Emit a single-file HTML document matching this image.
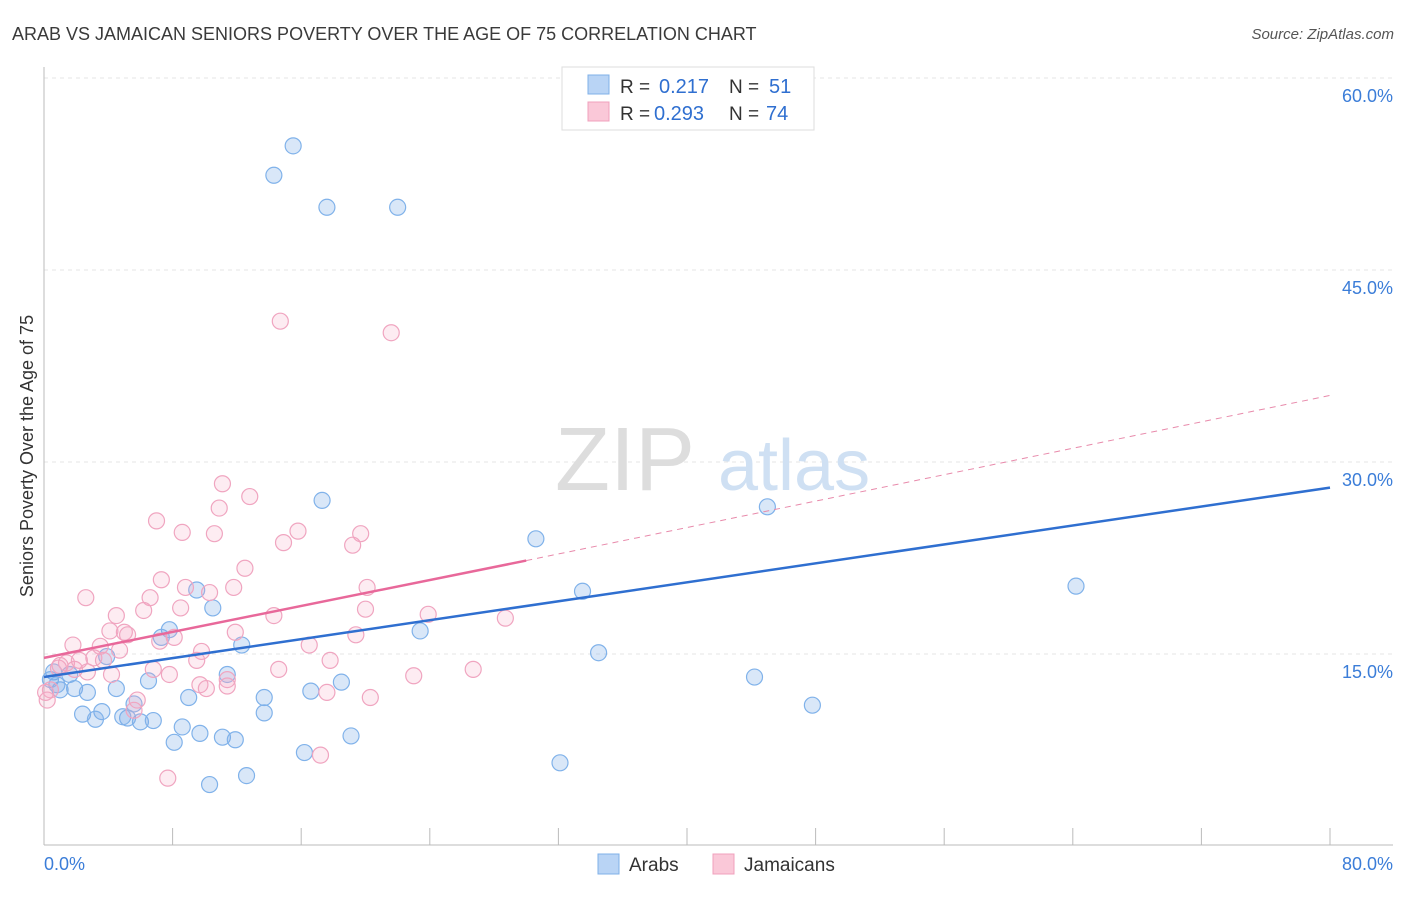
<!DOCTYPE html>
<html><head><meta charset="utf-8"><style>
body{margin:0;background:#fff;font-family:"Liberation Sans",sans-serif}
svg text{font-family:"Liberation Sans",sans-serif}
</style></head><body>
<svg id="chart" width="1406" height="892" xmlns="http://www.w3.org/2000/svg">
<text x="12" y="40" font-size="18" fill="#3a3a3a">ARAB VS JAMAICAN SENIORS POVERTY OVER THE AGE OF 75 CORRELATION CHART</text>
<text x="1394" y="39" font-size="15" fill="#555" text-anchor="end" font-style="italic">Source: ZipAtlas.com</text>
<g id="grid"></g>
<text x="555" y="490" font-size="90" fill="#ddd" font-family="Liberation Serif">ZIP</text>
<text x="718" y="490" font-size="72" fill="#cfe0f3">atlas</text>
<g id="pts"></g>
<g id="lines"></g>
<text transform="translate(33,456) rotate(-90)" font-size="18" fill="#333" text-anchor="middle">Seniors Poverty Over the Age of 75</text>
<text x="44" y="870" font-size="18" fill="#3b7dd8">0.0%</text>
<text x="1393" y="870" font-size="18" fill="#3b7dd8" text-anchor="end">80.0%</text>
<g>
<rect x="562" y="67" width="252" height="63" fill="#fff" stroke="#ddd"/>
<rect x="588" y="75" width="21" height="19" fill="#b9d4f5" stroke="#7fb0e8"/>
<rect x="588" y="102" width="21" height="19" fill="#fac8d8" stroke="#f0a0bc"/>
<text x="620" y="93" font-size="19" fill="#333">R =</text>
<text x="659" y="93" font-size="20" fill="#2f6fd0">0.217</text>
<text x="729" y="93" font-size="19" fill="#333">N =</text>
<text x="769" y="93" font-size="20" fill="#2f6fd0">51</text>
<text x="620" y="120" font-size="19" fill="#333">R =</text>
<text x="654" y="120" font-size="20" fill="#2f6fd0">0.293</text>
<text x="729" y="120" font-size="19" fill="#333">N =</text>
<text x="766" y="120" font-size="20" fill="#2f6fd0">74</text>
</g>
<g>
<rect x="598" y="854" width="21" height="20" fill="#b9d4f5" stroke="#7fb0e8"/>
<text x="629" y="871" font-size="19" fill="#333">Arabs</text>
<rect x="713" y="854" width="21" height="20" fill="#fac8d8" stroke="#f0a0bc"/>
<text x="744" y="871" font-size="19" fill="#333">Jamaicans</text>
</g>
</svg>
<script>
const yTicks=[15,30,45,60];
const yTickLabels=["15.0%","30.0%","45.0%","60.0%"];
const xTicks=[0,8,16,24,32,40,48,56,64,72,80];
const arabX=[15.5,14.3,17.6,22.0,17.3,30.6,45.0,33.5,64.2,34.5,44.2,47.8,32.1,23.4,9.5,10.5,7.8,7.3,3.9,0.6,1.0,0.4,0.8,1.6,1.9,2.7,4.5,3.6,2.4,3.2,5.2,4.9,6.0,6.8,6.5,9.0,11.4,12.3,13.7,13.7,16.6,18.5,19.1,16.2,12.6,10.3,8.1,8.6,9.7,11.1,11.9,5.6];
const arabY=[54.7,52.4,49.9,49.9,27.0,24.0,26.5,19.9,20.3,15.1,13.2,11.0,6.5,16.8,20.0,18.6,16.9,16.3,14.8,13.6,12.2,13.0,12.6,13.4,12.3,12.0,12.3,10.5,10.3,9.9,10.0,10.1,9.7,9.8,12.9,11.6,13.4,15.7,11.6,10.4,12.1,12.8,8.6,7.3,5.5,4.8,8.1,9.3,8.8,8.5,8.3,11.1];
const jamX=[14.7,21.6,11.1,12.8,10.9,7.0,8.6,10.6,15.8,14.9,19.7,19.2,12.5,7.3,8.8,6.6,6.2,8.5,10.3,11.8,2.6,4.5,14.3,20.1,20.0,23.9,28.7,5.0,4.1,5.2,7.2,8.1,11.9,19.4,16.5,1.8,3.5,4.7,9.8,3.1,3.7,9.5,17.8,6.8,14.6,26.7,1.4,0.9,1.9,4.2,2.7,7.8,11.4,23.0,9.7,11.4,10.1,20.3,17.6,5.8,5.6,0.4,0.2,0.1,17.2,7.7,1.0,2.2];
const jamY=[41.0,40.1,28.3,27.3,26.4,25.4,24.5,24.4,24.6,23.7,24.4,23.5,21.7,20.8,20.2,19.4,18.4,18.6,19.8,20.2,19.4,18.0,18.0,20.2,18.5,18.1,17.8,16.7,16.8,16.5,16.0,16.3,16.7,16.5,15.7,15.7,15.6,15.3,15.2,14.7,14.5,14.5,14.5,13.8,13.8,13.8,14.3,13.9,13.8,13.4,13.6,13.4,13.0,13.3,12.6,12.5,12.3,11.6,12.0,11.4,10.6,12.2,11.4,12.0,7.1,5.3,14.1,14.5];
const arabTrend=[[0,13.2],[80,28.0]];
const jamTrend=[[0,14.7],[30,22.3]];
const jamTrendExt=[[30,22.3],[80,35.2]];
const X=v=>44+v/80*1286, Y=v=>846-v/15*192;
const NS="http://www.w3.org/2000/svg";
function mk(parent,tag,attrs){const e=document.createElementNS(NS,tag);for(const k in attrs)e.setAttribute(k,attrs[k]);document.getElementById(parent).appendChild(e);return e;}
yTicks.forEach((t,i)=>{
 const g=mk('grid','line',{x1:44,x2:1393,y1:Y(t),y2:Y(t),stroke:'#e6e6e6','stroke-dasharray':'4,4'});
 
 
 const l=mk('grid','text',{x:1393,y:Y(t)+24,'font-size':18,fill:'#3b7dd8','text-anchor':'end'});
 l.textContent=yTickLabels[i];
 
 
});
const ax=mk('grid','line',{x1:44,x2:1393,y1:845,y2:845,stroke:'#bbb'});


const ay=mk('grid','line',{x1:44,x2:44,y1:67,y2:845,stroke:'#bbb'});


xTicks.forEach(t=>{const k=mk('grid','line',{x1:X(t),x2:X(t),y1:828,y2:845,stroke:'#bbb'});
 
 });
arabX.forEach((v,i)=>{const c=mk('pts','circle',{cx:X(v),cy:Y(arabY[i]),r:8,fill:'rgba(120,170,230,0.28)',stroke:'#80b2ea','stroke-width':1.2});
 
 });
jamX.forEach((v,i)=>{const c=mk('pts','circle',{cx:X(v),cy:Y(jamY[i]),r:8,fill:'rgba(245,170,195,0.22)',stroke:'#f0a5c0','stroke-width':1.2});
 
 });
function line(p,attrs,name){const l=mk('lines','line',Object.assign({x1:X(p[0][0]),y1:Y(p[0][1]),x2:X(p[1][0]),y2:Y(p[1][1])},attrs));
 
 }
line(jamTrendExt,{stroke:'#e88aab','stroke-width':1,'stroke-dasharray':'6,5'},'jamaican-trend-extension');
line(arabTrend,{stroke:'#2f6fd0','stroke-width':2.5},'arab-trend-line');
line(jamTrend,{stroke:'#e8689a','stroke-width':2.5},'jamaican-trend-line');
</script>
</body></html>
